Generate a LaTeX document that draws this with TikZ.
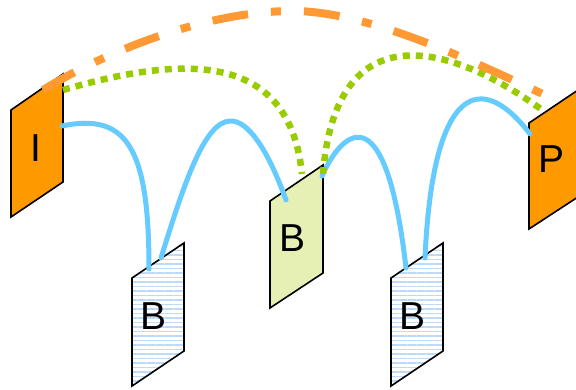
\documentclass[tikz,border=0pt]{standalone}
\usepackage{fontspec}
\setmainfont{Liberation Sans}
\usetikzlibrary{patterns.meta}
\definecolor{frameorange}{HTML}{FF9900}
\definecolor{dashorange}{HTML}{FF9933}
\definecolor{linkblue}{HTML}{66CCFF}
\definecolor{refgreen}{HTML}{99CC00}
\definecolor{stripe}{HTML}{BCDAF8}
\definecolor{bfill}{HTML}{E6F0B4}
\begin{document}
\begin{tikzpicture}[x=1pt,y=-1pt,
  frame/.style={draw=black,line width=1.6pt,line join=miter},
  oframe/.style={frame,fill=frameorange},
  sframe/.style={frame,pattern={Lines[angle=0,distance=4.5pt,line width=1.4pt]},pattern color=stripe},
  gframe/.style={frame,fill=bfill},
  lbl/.style={font=\fontsize{39}{39}\selectfont,inner sep=0pt},
  blink/.style={linkblue,line width=5pt,line cap=round},
  glink/.style={refgreen,line width=6.5pt,dash pattern=on 7pt off 6pt},
  olink/.style={dashorange,line width=8pt,dash pattern=on 36pt off 23pt on 10pt off 23pt}]
\path[use as bounding box] (0,0) rectangle (576,390);
\clip (0,0) rectangle (576,390);

% frames
\draw[oframe] (11,110) -- (63,74) -- (63,182) -- (11,217) -- cycle;
\draw[sframe] (132,278) -- (184,243) -- (184,351) -- (132,386) -- cycle;
\draw[gframe] (270,201) -- (323,165) -- (323,273) -- (270,308) -- cycle;
\draw[sframe] (391,278) -- (443,243) -- (443,351) -- (391,386) -- cycle;
\draw[oframe] (529,123) -- (581,88) -- (581,195) -- (529,229) -- cycle;

% labels
\node[lbl] (lI) at (36,148) {I};
\node[lbl] (lB1) at (154,316) {B};
\node[lbl] (lB2) at (292.5,238) {B};
\node[lbl] (lB3) at (413,316) {B};
\node[lbl] (lP) at (552,159) {P};

% connector end points
\coordinate (I1) at (62,126);
\coordinate (B1a) at (149,269);
\coordinate (B1b) at (161,258);
\coordinate (Bpk) at (230,121);
\coordinate (B2a) at (286,200);
\coordinate (B2b) at (322,176);
\coordinate (B3a) at (406,268);
\coordinate (B3b) at (425,258);
\coordinate (P1) at (530,134);
\coordinate (I2) at (63,90);
\coordinate (B2c) at (302,174);
\coordinate (B2d) at (323,174);
\coordinate (P2) at (545,112);
\coordinate (I3) at (43,90);
\coordinate (Opk) at (290,11);
\coordinate (P3) at (562,103);

% blue links
\draw[blink] (I1) .. controls (128,112) and (149,150) .. (B1a);
\draw[blink] (B1b) .. controls (185,180) and (205,122) .. (Bpk) .. controls (248,120) and (268,150) .. (B2a);
\draw[blink] (B2b) .. controls (340,135) and (385,85) .. (B3a);
\draw[blink] (B3b) .. controls (433,80) and (483,72) .. (P1);

% green dotted links
\draw[glink] (I2) .. controls (200,50) and (290,60) .. (B2c);
\draw[glink] (B2d) .. controls (335,20) and (440,35) .. (P2);

% orange dash-dot link
\draw[olink] (I3) .. controls (100,55) and (200,12) .. (Opk) .. controls (370,10) and (480,65) .. (P3);
\end{tikzpicture}
\end{document}
